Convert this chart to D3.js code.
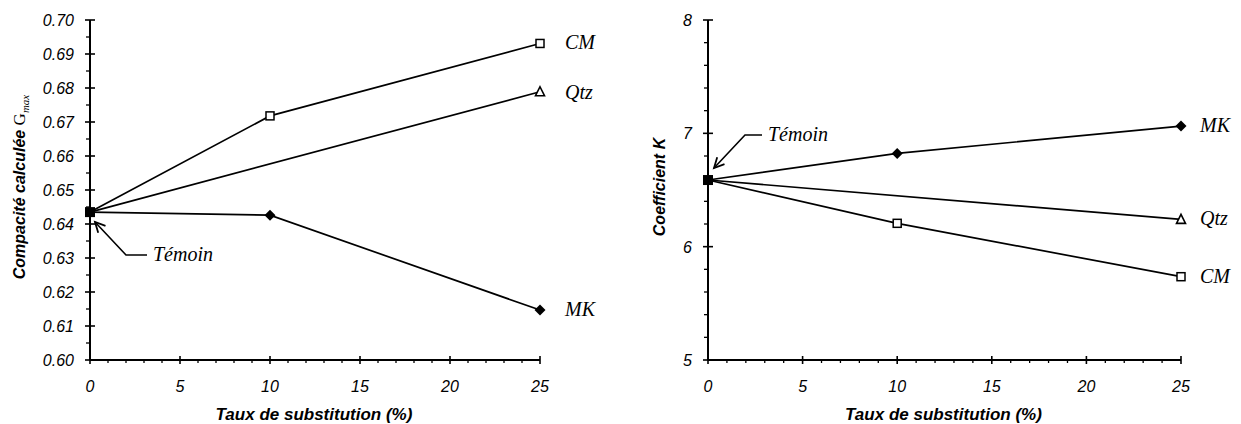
<!DOCTYPE html>
<html><head><meta charset="utf-8">
<script src="https://cdn.jsdelivr.net/npm/d3@7"></script>
<style>body{margin:0;background:#fff}svg{display:block}</style>
</head><body>
<svg id="c" width="1241" height="424"></svg>
<script>
// ---- data ----
const xValues = [0, 10, 25];
const compCM  = [0.6435, 0.6718, 0.6931];
const compQtz = [0.6435, null, 0.6789];
const compMK  = [0.6435, 0.6426, 0.6147];
const kMK  = [6.588, 6.823, 7.064];
const kQtz = [6.588, null, 6.241];
const kCM  = [6.588, 6.206, 5.735];
const xTicks = [0, 5, 10, 15, 20, 25];
const compTicks = [0.60, 0.61, 0.62, 0.63, 0.64, 0.65, 0.66, 0.67, 0.68, 0.69, 0.70];
const kTicks = [5, 6, 7, 8];
const seriesNames = ["CM", "Qtz", "MK"];

const svg = d3.select("#c");

function panel(opts) {
  const g = svg.append("g");
  const x = d3.scaleLinear().domain([0, 25]).range([opts.x0, opts.x1]);
  const y = d3.scaleLinear().domain(opts.yDomain).range([opts.yBottom, opts.yTop]);

  // axes lines
  g.append("line").attr("x1", x(0)).attr("x2", x(0)).attr("y1", y(opts.yDomain[0])).attr("y2", y(opts.yDomain[1])).attr("stroke", "#000").attr("stroke-width", 2);
  g.append("line").attr("x1", x(0)).attr("x2", x(25)).attr("y1", y(opts.yDomain[0])).attr("y2", y(opts.yDomain[0])).attr("stroke", "#000").attr("stroke-width", 2);

  // x minor ticks
  const yb = y(opts.yDomain[0]);
  d3.range(0, 26, 1).filter(v => v % 5 !== 0).forEach(v => {
    g.append("line").attr("x1", x(v)).attr("x2", x(v)).attr("y1", yb).attr("y2", yb + 3).attr("stroke", "#000").attr("stroke-width", 1.3);
  });
  xTicks.forEach(v => {
    g.append("line").attr("x1", x(v)).attr("x2", x(v)).attr("y1", yb - 4).attr("y2", yb + 4).attr("stroke", "#000").attr("stroke-width", 1.6);
    g.append("text").attr("x", x(v)).attr("y", yb + 32).attr("text-anchor", "middle")
      .attr("font-family", "Liberation Sans, Arial, sans-serif").attr("font-style", "italic").attr("font-size", 16).text(v);
  });
  // y minor ticks
  opts.yMinor.forEach(v => {
    g.append("line").attr("x1", x(0) - 4).attr("x2", x(0)).attr("y1", y(v)).attr("y2", y(v)).attr("stroke", "#000").attr("stroke-width", 1.3);
  });
  opts.yTicks.forEach(v => {
    g.append("line").attr("x1", x(0) - 5).attr("x2", x(0) + 5).attr("y1", y(v)).attr("y2", y(v)).attr("stroke", "#000").attr("stroke-width", 1.6);
    g.append("text").attr("x", x(0) - 16).attr("y", y(v) + 6).attr("text-anchor", "end")
      .attr("font-family", "Liberation Sans, Arial, sans-serif").attr("font-style", "italic").attr("font-size", 16).text(opts.fmt(v));
  });

  // lines
  const line = d3.line().x(d => x(d[0])).y(d => y(d[1]));
  opts.series.forEach(s => {
    const pts = xValues.map((xv, i) => [xv, s.values[i]]).filter(d => d[1] != null);
    g.append("path").attr("d", line(pts)).attr("fill", "none").attr("stroke", "#000").attr("stroke-width", 1.7);
  });
  // markers
  opts.series.forEach(s => {
    xValues.forEach((xv, i) => {
      const v = s.values[i];
      if (v == null || xv === 0) return;
      const px = x(xv), py = y(v);
      if (s.marker === "square") {
        g.append("rect").attr("x", px - 4).attr("y", py - 4).attr("width", 8).attr("height", 8).attr("fill", "#fff").attr("stroke", "#000").attr("stroke-width", 1.5);
      } else if (s.marker === "triangle") {
        g.append("path").attr("d", `M${px},${py-5}L${px+4.5},${py+4}L${px-4.5},${py+4}Z`).attr("fill", "#fff").attr("stroke", "#000").attr("stroke-width", 1.6);
      } else {
        g.append("path").attr("d", `M${px},${py-5.5}L${px+5.5},${py}L${px},${py+5.5}L${px-5.5},${py}Z`).attr("fill", "#000");
      }
    });
    const lx = x(25) + opts.labelOff, ly = y(s.values[2]) + 6 + (s.dy || 0);
    g.append("text").attr("x", lx).attr("y", ly).attr("font-family", "Liberation Serif, Times New Roman, serif")
      .attr("font-style", "italic").attr("font-size", 20).text(s.name);
  });
  // témoin marker
  const t0 = y(opts.series[0].values[0]);
  g.append("rect").attr("x", x(0) - 5).attr("y", t0 - 5).attr("width", 10).attr("height", 10).attr("fill", "#000");

  // Témoin annotation
  const a = opts.arrow;
  g.append("path").attr("d", `M${a.tx - 6},${a.ty}L${a.kx},${a.ty}L${a.hx},${a.hy}`).attr("fill", "none").attr("stroke", "#000").attr("stroke-width", 1.6);
  const ang = Math.atan2(a.hy - a.ty, a.hx - a.kx);
  const hl = 10, hw = 5;
  const bx = a.hx - hl * Math.cos(ang), by = a.hy - hl * Math.sin(ang);
  g.append("path").attr("d", `M${bx + hw*Math.sin(ang)},${by - hw*Math.cos(ang)}L${a.hx},${a.hy}L${bx - hw*Math.sin(ang)},${by + hw*Math.cos(ang)}`)
    .attr("fill", "none").attr("stroke", "#000").attr("stroke-width", 1.8).attr("stroke-linejoin", "miter");
  g.append("text").attr("x", a.tx).attr("y", a.ty + 6).attr("font-family", "Liberation Serif, Times New Roman, serif")
    .attr("font-style", "italic").attr("font-size", 20).text("Témoin");

  // axis titles
  g.append("text").attr("x", (x(0) + x(25)) / 2 - 1).attr("y", 420).attr("text-anchor", "middle")
    .attr("font-family", "Liberation Sans, Arial, sans-serif").attr("font-style", "italic").attr("font-weight", "bold").attr("font-size", 17)
    .text("Taux de substitution (%)");
  const yt = g.append("text").attr("transform", `translate(${opts.ytX},${opts.ytY}) rotate(-90)`).attr("text-anchor", "middle")
    .attr("font-family", "Liberation Sans, Arial, sans-serif").attr("font-style", "italic").attr("font-weight", "bold").attr("font-size", 16);
  opts.ytitle(yt);
}

panel({
  x0: 90, x1: 540, yTop: 20, yBottom: 360, yDomain: [0.60, 0.70],
  yTicks: compTicks, yMinor: d3.range(0, 10).map(i => 0.605 + i * 0.01),
  fmt: d3.format(".2f"), labelOff: 25,
  series: [
    {name: seriesNames[0], values: compCM, marker: "square"},
    {name: seriesNames[1], values: compQtz, marker: "triangle", dy: 1},
    {name: seriesNames[2], values: compMK, marker: "diamond"}
  ],
  arrow: {tx: 153, ty: 255, kx: 126, hx: 95, hy: 222},
  ytX: 25, ytY: 187,
  ytitle: t => {
    t.append("tspan").text("Compacité calculée  ");
    t.append("tspan").attr("font-family", "Liberation Serif, serif").attr("font-weight", "normal").attr("font-style", "normal").attr("font-size", 17).text("G");
    t.append("tspan").attr("font-family", "Liberation Serif, serif").attr("font-weight", "normal").attr("font-size", 11).attr("dy", 4).text("max");
  }
});

panel({
  x0: 708, x1: 1181, yTop: 20, yBottom: 360, yDomain: [5, 8],
  yTicks: kTicks, yMinor: d3.range(5, 8, 0.2).filter((v, i) => i % 5 !== 0),
  fmt: d3.format("d"), labelOff: 19,
  series: [
    {name: seriesNames[2], values: kMK, marker: "diamond"},
    {name: seriesNames[1], values: kQtz, marker: "triangle"},
    {name: seriesNames[0], values: kCM, marker: "square"}
  ],
  arrow: {tx: 768, ty: 135, kx: 745, hx: 714, hy: 168},
  ytX: 665, ytY: 187,
  ytitle: t => { t.text("Coefficient K"); }
});
</script>
</body></html>
